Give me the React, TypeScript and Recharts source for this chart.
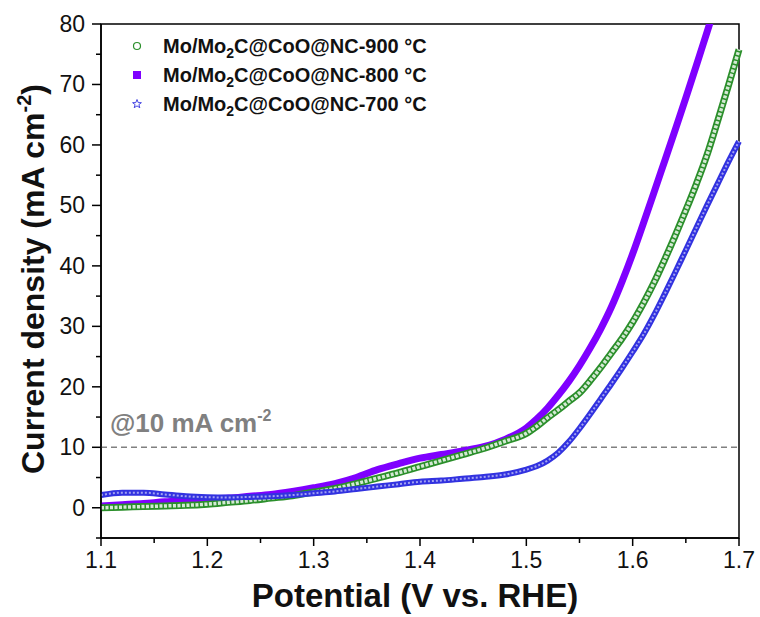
import React from "react";
import { LineChart, Line, XAxis, YAxis, ReferenceLine, ReferenceArea } from "recharts";

// potential (V vs. RHE), shared by all three sweeps
const potentials = [
  1.1, 1.12, 1.14, 1.16, 1.18, 1.2, 1.22, 1.24, 1.26, 1.28, 1.3, 1.32, 1.34, 1.36, 1.38, 1.4, 1.42, 1.44, 1.46, 1.48, 1.5,
  1.51, 1.52, 1.53, 1.54, 1.55, 1.56, 1.57, 1.58, 1.59, 1.6, 1.61, 1.62, 1.63, 1.64, 1.65, 1.66, 1.67, 1.68, 1.69, 1.7,
];

// current density (mA cm-2)
const nc900 = [
  0.0, 0.1, 0.2, 0.3, 0.4, 0.6, 0.9, 1.2, 1.6, 2.0, 2.6, 3.2, 4.0, 4.9, 5.8, 6.8, 7.8, 8.8, 9.8, 11.0, 12.3,
  13.5, 14.9, 16.2, 17.6, 19.0, 21.0, 23.2, 25.6, 28.0, 30.7, 33.8, 37.2, 41.0, 45.0, 49.2, 53.6, 58.4, 64.0, 69.8, 75.8,
];
const nc800 = [
  0.3, 0.5, 0.7, 1.0, 1.2, 1.4, 1.6, 1.9, 2.2, 2.7, 3.3, 4.0, 5.0, 6.3, 7.3, 8.2, 8.8, 9.4, 10.1, 11.3, 13.2,
  14.7, 16.5, 18.6, 20.9, 23.5, 26.4, 29.6, 33.2, 37.4, 42.0, 47.0, 52.1, 57.3, 62.5, 67.8, 73.2, 78.7, 84.2, null, null,
];
const nc700 = [
  2.1, 2.5, 2.5, 2.2, 1.9, 1.75, 1.7, 1.8, 1.9, 2.1, 2.4, 2.7, 3.1, 3.5, 3.9, 4.3, 4.5, 4.8, 5.1, 5.5, 6.3,
  6.9, 7.8, 9.1, 10.9, 13.1, 15.5, 18.0, 20.5, 23.1, 25.8, 28.6, 31.8, 35.3, 38.9, 42.6, 46.3, 50.0, 53.6, 57.2, 60.6,
];

const xTicks = [1.1, 1.15, 1.2, 1.25, 1.3, 1.35, 1.4, 1.45, 1.5, 1.55, 1.6, 1.65, 1.7];
const yTicks = [-5, 0, 5, 10, 15, 20, 25, 30, 35, 40, 45, 50, 55, 60, 65, 70, 75, 80];

const toRows = (vals: (number | null)[]) => potentials.map((v, i) => ({ v, j: vals[i] }));
const d900 = toRows(nc900);
const d800 = toRows(nc800);
const d700 = toRows(nc700);

const GREEN = "#2b8f2b";
const PURPLE = "#7f00ff";
const BLUE = "#3232e0";
const FONT = "'Liberation Sans', Arial, sans-serif";

function YTick(props: any) {
  const { x, y, payload } = props;
  const major = payload.value % 10 === 0;
  return (
    <g>
      <line x1={x - (major ? 9 : 5)} x2={x} y1={y} y2={y} stroke="#000" strokeWidth={1.5} />
      {major && (
        <text x={x - 16} y={y + 8} textAnchor="end" fontSize={23} fontFamily={FONT} fill="#111">
          {payload.value}
        </text>
      )}
    </g>
  );
}

function XTick(props: any) {
  const { x, y, payload } = props;
  const major = Math.round(payload.value * 100) % 10 === 0;
  return (
    <g>
      <line x1={x} x2={x} y1={y} y2={y + (major ? 8 : 5)} stroke="#000" strokeWidth={1.5} />
      {major && (
        <text x={x} y={y + 30} textAnchor="middle" fontSize={23} fontFamily={FONT} fill="#111">
          {payload.value.toFixed(1)}
        </text>
      )}
    </g>
  );
}

function LegendLabel({ y, temp }: { y: number; temp: string }) {
  return (
    <text x={163} y={y} fontSize={20} fontWeight="bold" fontFamily={FONT} fill="#111">
      Mo/Mo<tspan fontSize={14} dy={5}>2</tspan>
      <tspan dy={-5}>C@CoO@NC-{temp} °C</tspan>
    </text>
  );
}

export default function App() {
  return (
    <div style={{ position: "absolute", left: 0, top: 0, width: 760, height: 617, background: "#fff" }}>
      <LineChart width={760} height={617} data={d900} margin={{ top: 24, right: 21, bottom: 49, left: 0 }}>
        <XAxis
          dataKey="v"
          type="number"
          domain={[1.1, 1.7]}
          ticks={xTicks}
          height={30}
          tickSize={0}
          tickMargin={0}
          tick={<XTick />}
          axisLine={{ stroke: "#000", strokeWidth: 1.5 }}
          tickLine={false}
        />
        <YAxis
          type="number"
          domain={[-5, 80]}
          ticks={yTicks}
          width={101}
          allowDataOverflow
          tickSize={0}
          tickMargin={0}
          tick={<YTick />}
          axisLine={{ stroke: "#000", strokeWidth: 1.5 }}
          tickLine={false}
        />
        <ReferenceArea x1={1.1} x2={1.7} y1={-5} y2={80} fill="none" stroke="#000" strokeWidth={1.5} />
        <ReferenceLine y={10} stroke="#808080" strokeWidth={1.5} strokeDasharray="6 4" />

        <Line data={d800} dataKey="j" type="monotone" stroke={PURPLE} strokeWidth={7} dot={false} isAnimationActive={false} />

        {/* hollow-circle look: green band with a dashed white core */}
        <Line data={d900} dataKey="j" type="monotone" stroke={GREEN} strokeWidth={7} dot={false} isAnimationActive={false} />
        <Line data={d900} dataKey="j" type="monotone" stroke="#ffffff" strokeOpacity={0.8} strokeWidth={3.5} strokeDasharray="3 1.5" dot={false} isAnimationActive={false} />

        <Line data={d700} dataKey="j" type="monotone" stroke={BLUE} strokeWidth={6} dot={false} isAnimationActive={false} />
        <Line data={d700} dataKey="j" type="monotone" stroke="#ffffff" strokeOpacity={0.55} strokeWidth={2} strokeDasharray="2 2" dot={false} isAnimationActive={false} />
      </LineChart>

      <svg width={760} height={617} style={{ position: "absolute", left: 0, top: 0, pointerEvents: "none" }}>
        {/* legend */}
        <circle cx={137} cy={46} r={3.5} fill="none" stroke={GREEN} strokeWidth={1.2} />
        <LegendLabel y={53} temp="900" />
        <rect x={133} y={71} width={8} height={8} fill={PURPLE} />
        <LegendLabel y={82} temp="800" />
        <path
          d="M137,99.5 L138.2,102.6 L141.4,102.7 L138.9,104.6 L139.8,107.7 L137,105.9 L134.2,107.7 L135.1,104.6 L132.6,102.7 L135.8,102.6 Z"
          fill="none"
          stroke={BLUE}
          strokeWidth={0.9}
        />
        <LegendLabel y={111} temp="700" />

        {/* reference label */}
        <text x={110} y={432} fontSize={26} fontWeight="bold" fontFamily={FONT} fill="#808080">
          @10 mA cm<tspan fontSize={16} dy={-11}>-2</tspan>
        </text>

        {/* axis titles */}
        <text x={415} y={607} textAnchor="middle" fontSize={33} fontWeight="bold" fontFamily={FONT} fill="#111">
          Potential (V vs. RHE)
        </text>
        <text
          x={0}
          y={0}
          transform="translate(44,279) rotate(-90)"
          textAnchor="middle"
          fontSize={32}
          fontWeight="bold"
          fontFamily={FONT}
          fill="#111"
        >
          Current density (mA cm<tspan fontSize={20} dy={-13}>-2</tspan>
          <tspan dy={13}>)</tspan>
        </text>
      </svg>
    </div>
  );
}
